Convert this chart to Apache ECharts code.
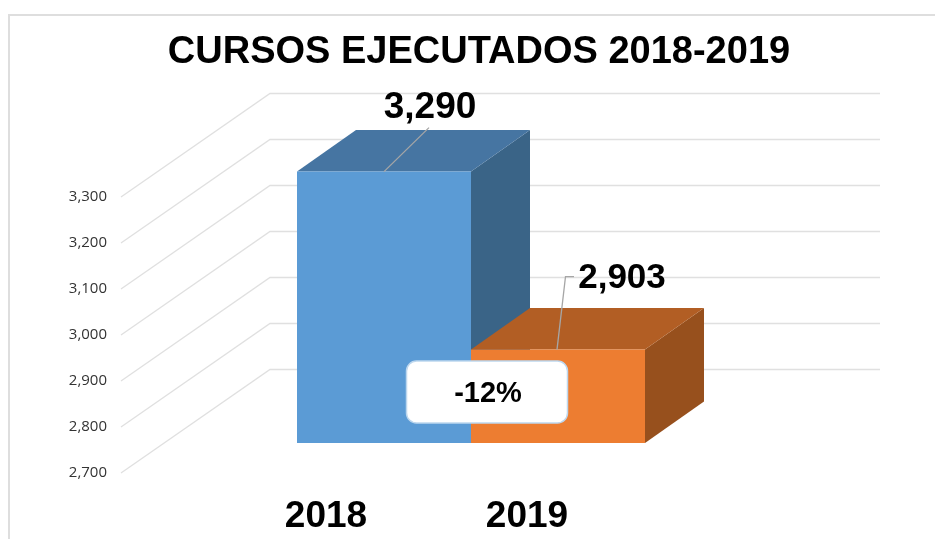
<!DOCTYPE html>
<html><head><meta charset="utf-8">
<style>html,body{margin:0;padding:0;background:#fff}#c{width:935px;height:539px}</style>
<script src="https://cdn.jsdelivr.net/npm/echarts@6/dist/echarts.min.js"></script>
</head><body><div id="c"></div>
<script>
const titleText = 'CURSOS EJECUTADOS 2018-2019';
const categories = ['2018', '2019'];
const values = [3290, 2903];
const yTicks = [2700, 2800, 2900, 3000, 3100, 3200, 3300];
const changeLabel = '-12%';

const FONT = '"Liberation Sans", Arial, sans-serif';
const fmt = v => v.toLocaleString('en-US');
const palette = [
  {front:'#5B9BD5', top:'#4675A2', side:'#3A6487'},
  {front:'#ED7D31', top:'#B25E24', side:'#97501D'}
];
const DX = 59, DY = -41.5;
const labelStyle = [
  {size:37, pts:d=>[[d.cx,d.yt],[d.cx+45,d.yt-44]], tx:d=>d.cx+46, ty:d=>d.yt-64},
  {size:35, pts:d=>[[d.cx-1,d.yt],[d.cx+7.5,d.yt-73],[d.cx+16,d.yt-73]], tx:d=>d.cx+64, ty:d=>d.yt-71}
];

const chart = echarts.init(document.getElementById('c'), null, {renderer:'canvas'});
chart.setOption({
  animation:false,
  backgroundColor:'#fff',
  title:{text:titleText,left:474,top:29,textAlign:'center',
    textStyle:{fontFamily:FONT,fontSize:38,fontWeight:'bold',color:'#000'}},
  grid:[
    {left:225.5,width:402,top:197,height:276},
    {left:297,width:348,top:167,height:276}
  ],
  xAxis:[
    {type:'category',gridIndex:0,data:categories,axisLine:{show:false},axisTick:{show:false},
     axisLabel:{fontFamily:FONT,fontSize:37,fontWeight:'bold',color:'#000',margin:25}},
    {type:'category',gridIndex:1,data:categories,show:false}
  ],
  yAxis:[
    {type:'value',gridIndex:0,min:2700,max:3300,interval:100,offset:105.5,splitLine:{show:false},
     axisLine:{show:false},axisTick:{show:false},
     axisLabel:{fontFamily:'"Open Sans", sans-serif',fontSize:15,color:'#333',margin:13,padding:[4,0,0,0],formatter:v=>fmt(v)}},
    {type:'value',gridIndex:1,min:2700,max:3300,interval:100,show:false}
  ],
  series:[
    {type:'custom',xAxisIndex:0,yAxisIndex:0,z:1,clip:false,silent:true,
     data:yTicks.map(v=>[0,v]),
     renderItem:(p,api)=>{
       const y=api.coord([0,api.value(1)])[1];
       return {type:'polyline',shape:{points:[[121,y],[270,y-103.5],[880,y-103.5]]},
         style:{fill:null,stroke:'#E0E0E0',lineWidth:1.3}};
     }},
    {type:'custom',xAxisIndex:1,yAxisIndex:1,z:2,clip:false,silent:true,
     data:values.map((v,i)=>[i,v]),
     renderItem:(p,api)=>{
       const i=api.value(0), v=api.value(1);
       const c=api.coord([i,v]), b=api.coord([i,2700]), w=api.size([1,0])[0];
       const xl=c[0]-w/2, xr=c[0]+w/2, yt=c[1], yb=b[1];
       const col=palette[i];
       const poly=(points,fill)=>({type:'polygon',shape:{points},style:{fill}});
       const d={cx:c[0],yt}, ls=labelStyle[i];
       return {type:'group',children:[
         poly([[xr,yt],[xr+DX,yt+DY],[xr+DX,yb+DY],[xr,yb]],col.side),
         poly([[xl,yt],[xr,yt],[xr+DX,yt+DY],[xl+DX,yt+DY]],col.top),
         {type:'rect',shape:{x:xl,y:yt,width:w,height:yb-yt},style:{fill:col.front}},
         {type:'polyline',shape:{points:ls.pts(d)},style:{fill:null,stroke:'#A6A6A6',lineWidth:1.3}},
         {type:'text',style:{text:fmt(v),x:ls.tx(d),y:ls.ty(d),align:'center',verticalAlign:'middle',
           font:'bold '+ls.size+'px '+FONT,fill:'#000'}}
       ]};
     }}
  ],
  graphic:[
    {type:'polyline',z:0,silent:true,shape:{points:[[9,539],[9,15],[935,15]]},
     style:{fill:null,stroke:'#DEDEDE',lineWidth:2}},
    {type:'rect',z:10,shape:{x:406.5,y:361,width:161,height:62,r:10},
     style:{fill:'#fff',stroke:'#BDD7EE',lineWidth:1.5}},
    {type:'text',z:11,style:{text:changeLabel,x:488,y:394,align:'center',verticalAlign:'middle',
      font:'bold 29px '+FONT,fill:'#000'}}
  ]
});
</script></body></html>
